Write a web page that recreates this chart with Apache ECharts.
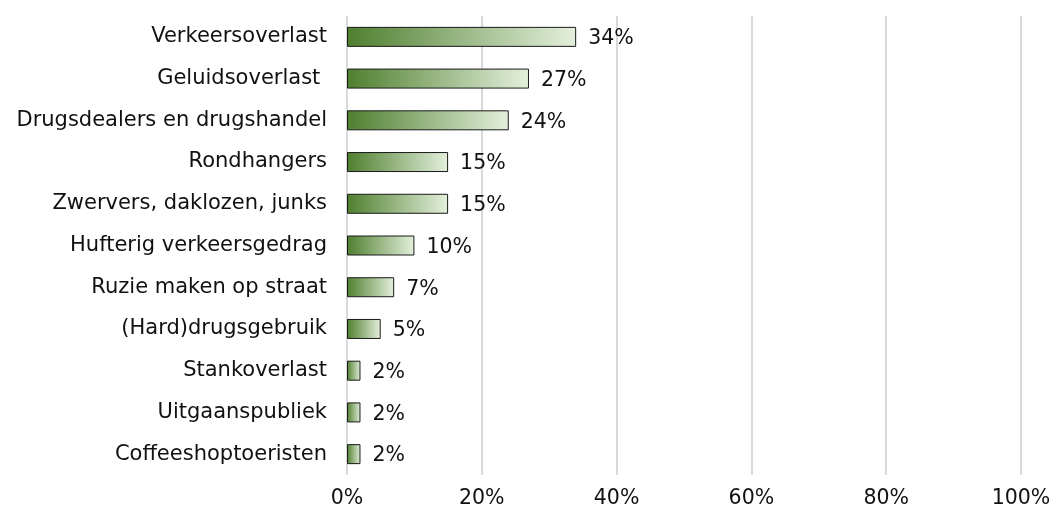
<!DOCTYPE html>
<html>
<head>
<meta charset="utf-8">
<script src="https://cdn.jsdelivr.net/npm/echarts@6/dist/echarts.min.js"></script>
<style>
  html, body { margin: 0; padding: 0; background: #fff; }
  #chart { width: 1056px; height: 511px; }
</style>
</head>
<body>
<div id="chart"></div>
<script>
  // categorieën (van boven naar beneden)
  const categories = [
    'Verkeersoverlast',
    'Geluidsoverlast ',
    'Drugsdealers en drugshandel',
    'Rondhangers',
    'Zwervers, daklozen, junks',
    'Hufterig verkeersgedrag',
    'Ruzie maken op straat',
    '(Hard)drugsgebruik',
    'Stankoverlast',
    'Uitgaanspubliek',
    'Coffeeshoptoeristen'
  ]
  // percentages
  const values = [34, 27, 24, 15, 15, 10, 7, 5, 2, 2, 2]
  const xTicks = [0, 20, 40, 60, 80, 100]

  const myChart = echarts.init(document.getElementById('chart'))
  const font = 'DejaVu Sans, Verdana, sans-serif'

  myChart.setOption({
    animation: false,
    grid: { left: 347, right: 35, top: 16, bottom: 36 },
    xAxis: {
      type: 'value',
      min: xTicks[0],
      max: xTicks[xTicks.length - 1],
      interval: 20,
      axisLine: { show: false },
      axisTick: { show: false },
      axisLabel: {
        formatter: '{value}%',
        color: '#111',
        fontSize: 20.5,
        fontFamily: font,
        margin: 13
      },
      splitLine: { lineStyle: { color: '#d9d9d9', width: 2 } }
    },
    yAxis: {
      type: 'category',
      inverse: true,
      data: categories,
      axisLine: { show: false },
      axisTick: { show: false },
      axisLabel: {
        color: '#111',
        fontSize: 21,
        fontFamily: font,
        margin: 20
      }
    },
    series: [{
      type: 'bar',
      data: values,
      barWidth: 20,
      itemStyle: {
        borderColor: '#1a1a1a',
        borderWidth: 1,
        color: new echarts.graphic.LinearGradient(0, 0, 1, 0, [
          { offset: 0, color: '#4f7f2f' },
          { offset: 1, color: '#e4f0dc' }
        ])
      },
      label: {
        show: true,
        position: 'right',
        distance: 12,
        offset: [0, 2],
        formatter: '{c}%',
        color: '#111',
        fontSize: 20.5,
        fontFamily: font
      }
    }]
  })
</script>
</body>
</html>
